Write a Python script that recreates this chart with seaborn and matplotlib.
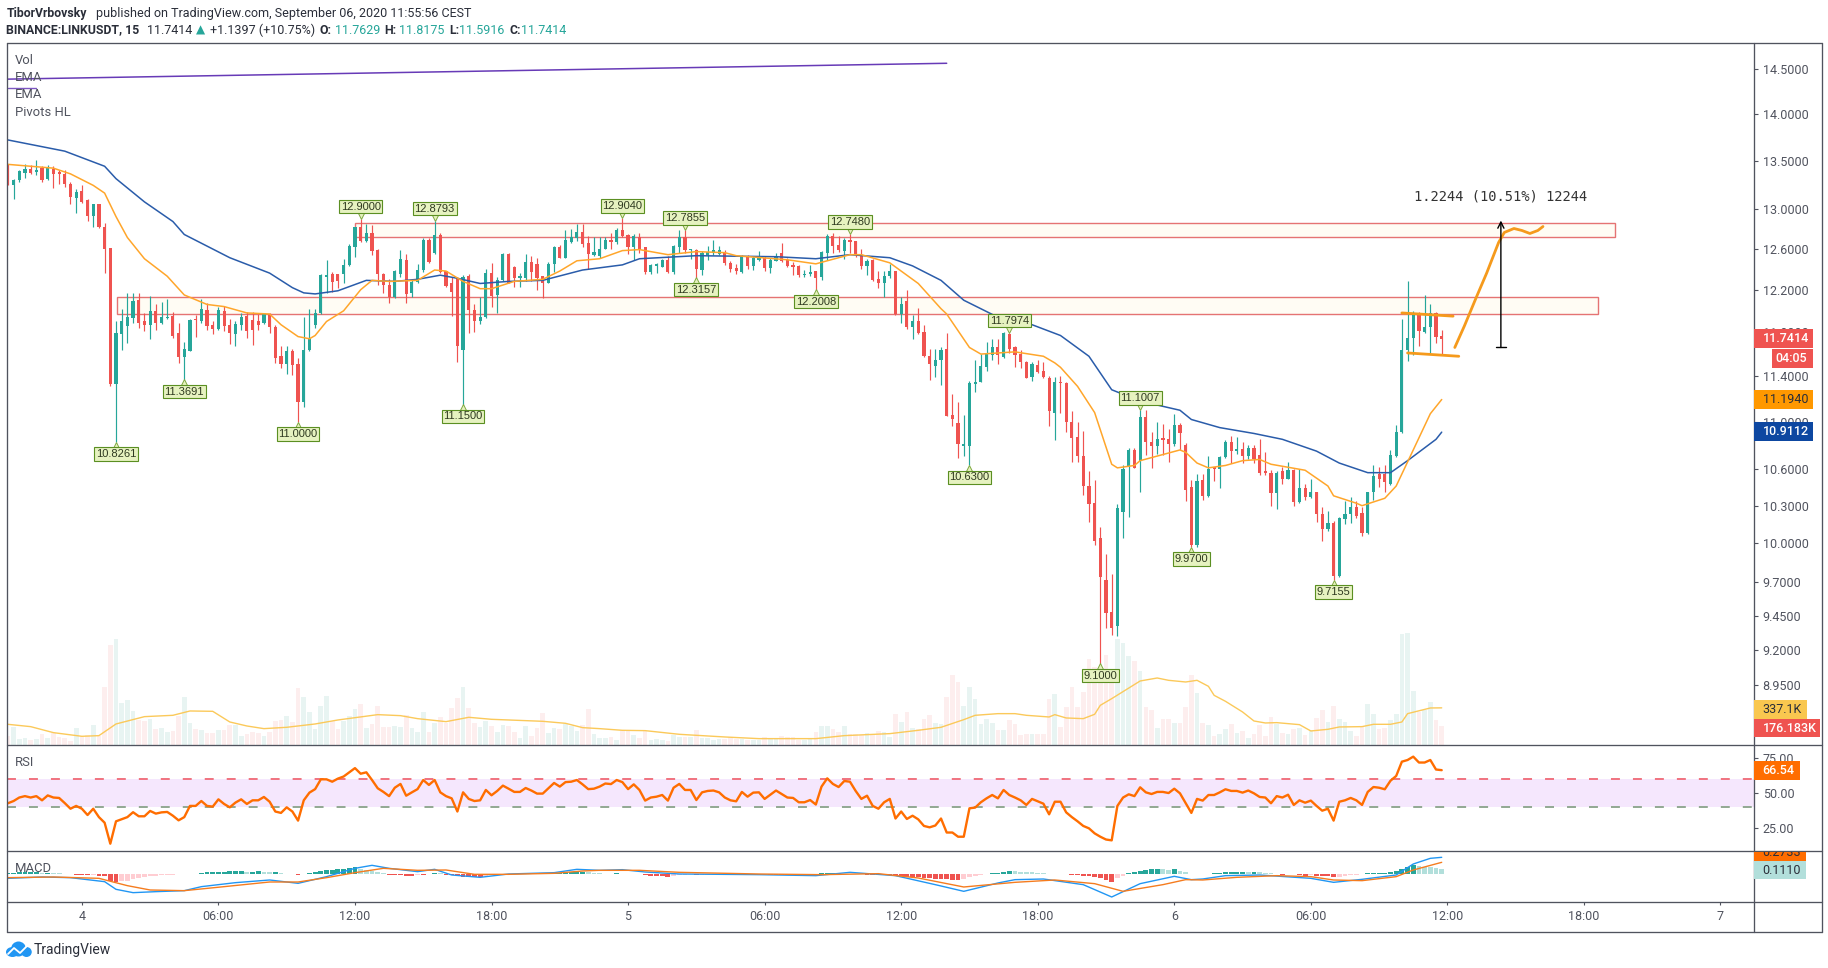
import matplotlib
matplotlib.use("Agg")
import matplotlib.pyplot as plt
import pandas as pd
import seaborn as sns
from matplotlib.lines import Line2D
from matplotlib.patches import Ellipse, Rectangle
from matplotlib.transforms import Bbox, IdentityTransform, TransformedBbox, offset_copy

# LINK/USDT 15 minute bars
opens = [13.45,13.24,13.30,13.37,13.41,13.38,13.42,13.31,13.41,13.38,
    13.36,13.25,13.11,13.18,13.09,12.93,13.05,12.82,12.61,11.33,
    11.78,11.86,11.93,12.10,11.90,11.87,12.00,11.89,11.93,11.95,
    11.79,11.57,11.63,11.92,11.90,12.01,11.87,11.83,12.00,11.87,
    11.78,11.87,11.95,11.91,11.90,11.89,11.97,11.85,11.58,11.51,
    11.63,11.51,11.17,11.64,11.87,11.98,12.32,12.35,12.35,12.35,
    12.44,12.62,12.82,12.68,12.75,12.59,12.35,12.25,12.13,12.35,
    12.49,12.17,12.27,12.39,12.69,12.56,12.73,12.38,12.26,12.31,
    11.64,12.33,12.01,11.90,11.94,12.36,12.15,12.29,12.55,12.42,
    12.31,12.31,12.47,12.45,12.33,12.26,12.45,12.62,12.51,12.67,
    12.70,12.76,12.66,12.54,12.53,12.60,12.69,12.67,12.78,12.73,
    12.62,12.71,12.62,12.37,12.43,12.42,12.49,12.37,12.62,12.71,
    12.59,12.59,12.39,12.54,12.56,12.55,12.57,12.46,12.41,12.37,
    12.52,12.43,12.49,12.51,12.41,12.48,12.56,12.49,12.44,12.43,
    12.34,12.35,12.38,12.32,12.56,12.72,12.64,12.58,12.69,12.68,
    12.53,12.43,12.49,12.30,12.26,12.33,12.38,11.97,12.09,11.85,
    11.90,11.80,11.58,11.49,11.55,11.65,11.06,10.99,10.79,10.79,
    11.33,11.35,11.48,11.59,11.66,11.57,11.78,11.66,11.60,11.53,
    11.39,11.50,11.45,11.38,11.08,11.35,11.34,11.00,10.87,10.71,
    10.46,10.32,10.04,9.72,9.48,9.37,10.25,10.62,10.76,10.67,
    11.04,10.83,10.79,10.86,10.85,10.81,10.97,10.80,10.45,9.99,
    10.51,10.38,10.62,10.60,10.70,10.83,10.75,10.77,10.71,10.78,
    10.72,10.58,10.57,10.40,10.58,10.52,10.59,10.33,10.44,10.37,
    10.41,10.23,10.11,10.16,9.75,10.19,10.23,10.29,10.24,10.08,
    10.41,10.56,10.56,10.48,10.71,10.91,11.64,11.75,11.96,11.80,
    11.85,11.98,11.7629]
highs = [13.46,13.31,13.40,13.46,13.45,13.51,13.44,13.45,13.44,13.40,
    13.40,13.27,13.20,13.24,13.10,13.05,13.05,12.86,12.61,11.90,
    12.02,12.17,12.17,12.17,11.98,12.14,12.06,12.08,12.11,11.99,
    11.89,11.71,11.92,11.96,12.11,12.07,11.90,12.04,12.05,11.92,
    11.90,11.98,11.99,11.99,11.97,11.98,11.98,11.87,11.67,11.67,
    11.65,11.56,11.94,12.02,12.02,12.35,12.49,12.37,12.35,12.50,
    12.65,12.82,12.90,12.85,12.84,12.60,12.36,12.30,12.39,12.59,
    12.55,12.30,12.45,12.70,12.70,12.8793,12.75,12.38,12.32,12.32,
    12.34,12.35,12.06,12.13,12.40,12.46,12.32,12.56,12.56,12.43,
    12.36,12.55,12.53,12.51,12.33,12.47,12.63,12.64,12.78,12.79,
    12.85,12.85,12.72,12.71,12.71,12.71,12.75,12.80,12.9040,12.74,
    12.74,12.75,12.62,12.45,12.46,12.50,12.53,12.64,12.78,12.7855,
    12.60,12.60,12.58,12.63,12.69,12.63,12.59,12.48,12.45,12.54,
    12.54,12.53,12.58,12.53,12.51,12.56,12.66,12.51,12.47,12.44,
    12.39,12.44,12.38,12.58,12.74,12.75,12.72,12.70,12.7480,12.68,
    12.60,12.50,12.50,12.38,12.38,12.45,12.38,12.13,12.20,11.96,
    12.03,11.87,11.65,11.65,11.66,11.79,11.24,11.17,11.06,11.36,
    11.55,11.60,11.71,11.74,11.74,11.80,11.7974,11.67,11.64,11.54,
    11.53,11.55,11.53,11.40,11.39,11.40,11.35,11.09,11.00,10.92,
    10.58,10.51,10.13,9.92,9.76,10.31,10.63,10.78,10.78,11.1007,
    11.10,10.91,11.00,10.98,10.94,11.07,10.99,10.82,10.51,10.56,
    10.56,10.71,10.62,10.71,10.84,10.88,10.87,10.83,10.80,10.80,
    10.85,10.74,10.59,10.58,10.62,10.66,10.60,10.60,10.48,10.52,
    10.41,10.29,10.26,10.18,10.21,10.34,10.37,10.34,10.29,10.41,
    10.63,10.62,10.63,10.76,10.97,11.92,12.28,12.00,11.99,12.15,
    12.06,11.99,11.8175]
lows = [13.24,13.10,13.27,13.32,13.36,13.35,13.27,13.30,13.21,13.25,
    13.22,13.05,12.96,13.06,12.88,12.81,12.80,12.36,11.31,10.8261,
    11.64,11.70,11.89,11.84,11.81,11.74,11.82,11.88,11.92,11.75,
    11.52,11.3691,11.63,11.76,11.89,11.82,11.78,11.82,11.81,11.69,
    11.67,11.82,11.75,11.68,11.82,11.88,11.79,11.52,11.47,11.42,
    11.41,11.00,11.13,11.63,11.84,11.97,12.17,12.18,12.22,12.26,
    12.43,12.52,12.67,12.67,12.54,12.25,12.17,12.07,12.12,12.32,
    12.07,12.13,12.26,12.37,12.46,12.55,12.36,12.23,11.95,11.53,
    11.15,11.79,11.80,11.88,11.93,12.04,11.98,12.28,12.26,12.23,
    12.23,12.28,12.28,12.20,12.12,12.26,12.37,12.51,12.51,12.66,
    12.68,12.62,12.40,12.53,12.51,12.60,12.60,12.65,12.71,12.55,
    12.49,12.56,12.35,12.35,12.36,12.42,12.36,12.35,12.56,12.56,
    12.50,12.3157,12.34,12.49,12.54,12.54,12.44,12.37,12.35,12.36,
    12.40,12.39,12.48,12.38,12.36,12.48,12.47,12.42,12.34,12.32,
    12.32,12.33,12.2008,12.29,12.49,12.56,12.57,12.50,12.56,12.52,
    12.40,12.34,12.28,12.22,12.13,12.31,11.96,11.89,11.83,11.74,
    11.78,11.57,11.37,11.39,11.32,11.05,10.96,10.69,10.71,10.63,
    11.26,11.35,11.45,11.55,11.51,11.56,11.61,11.48,11.47,11.38,
    11.36,11.43,11.38,10.96,10.84,11.08,10.91,10.66,10.66,10.39,
    10.17,9.99,9.10,9.36,9.31,9.30,10.04,10.21,10.61,10.41,
    10.72,10.61,10.73,10.72,10.66,10.79,10.76,10.34,9.97,9.97,
    10.35,10.37,10.50,10.44,10.69,10.65,10.73,10.65,10.68,10.65,
    10.55,10.55,10.30,10.27,10.48,10.52,10.30,10.32,10.35,10.36,
    10.17,10.02,10.10,9.7155,9.74,10.15,10.16,10.20,10.06,10.07,
    10.35,10.45,10.41,10.47,10.70,10.90,11.54,11.59,11.67,11.79,
    11.61,11.70,11.5916]
closes = [13.24,13.30,13.39,13.41,13.37,13.40,13.30,13.42,13.36,13.36,
    13.25,13.12,13.17,13.07,12.93,13.05,12.81,12.60,11.33,11.79,
    11.90,11.94,12.09,11.89,11.87,12.00,11.89,11.94,11.94,11.77,
    11.57,11.65,11.91,11.91,12.02,11.86,11.83,12.01,11.86,11.79,
    11.88,11.94,11.81,11.82,11.87,11.97,11.85,11.56,11.51,11.63,
    11.50,11.17,11.64,11.75,11.98,12.34,12.34,12.27,12.28,12.44,
    12.63,12.81,12.68,12.75,12.58,12.35,12.25,12.13,12.38,12.50,
    12.16,12.27,12.39,12.69,12.47,12.73,12.37,12.24,12.18,11.67,
    12.32,12.01,11.90,11.94,12.36,12.14,12.29,12.55,12.26,12.31,
    12.33,12.47,12.37,12.31,12.26,12.45,12.62,12.51,12.69,12.71,
    12.76,12.65,12.55,12.57,12.60,12.69,12.67,12.78,12.72,12.62,
    12.72,12.60,12.37,12.44,12.45,12.49,12.37,12.63,12.71,12.59,
    12.60,12.40,12.56,12.57,12.59,12.59,12.46,12.40,12.38,12.52,
    12.43,12.51,12.51,12.41,12.49,12.53,12.48,12.43,12.42,12.34,
    12.35,12.37,12.31,12.57,12.72,12.63,12.59,12.69,12.67,12.55,
    12.43,12.48,12.29,12.26,12.33,12.38,11.97,12.06,11.85,11.90,
    11.79,11.58,11.51,11.55,11.64,11.05,11.02,10.81,10.81,11.34,
    11.35,11.49,11.60,11.66,11.59,11.79,11.65,11.59,11.53,11.38,
    11.51,11.44,11.39,11.09,11.35,11.34,11.00,10.86,10.71,10.46,
    10.31,10.02,9.74,9.47,9.36,10.28,10.60,10.76,10.61,11.04,
    10.83,10.79,10.85,10.84,10.81,10.97,10.90,10.43,9.99,10.50,
    10.38,10.60,10.60,10.70,10.83,10.75,10.77,10.71,10.78,10.68,
    10.57,10.57,10.40,10.57,10.52,10.59,10.33,10.44,10.37,10.41,
    10.23,10.11,10.16,9.75,10.20,10.23,10.29,10.22,10.08,10.41,
    10.54,10.52,10.49,10.72,10.91,11.64,11.75,11.96,11.81,11.85,
    11.98,11.76,11.7414]
# volume in thousands
volumes = [84,168,57,66,48,57,102,66,108,78,
    63,42,153,84,93,183,87,528,903,957,
    384,408,309,228,222,240,144,159,123,129,
    264,438,204,147,135,114,114,138,138,180,
    183,84,102,120,114,84,123,219,228,264,
    213,513,432,300,150,354,444,219,144,219,
    264,330,372,159,192,354,168,165,174,162,
    273,159,120,300,120,204,252,198,333,423,
    525,333,198,168,219,174,120,183,174,123,
    66,174,84,159,288,108,159,147,192,174,
    132,180,324,99,66,66,75,51,135,135,
    90,69,135,45,54,45,36,90,75,75,
    75,135,69,66,51,57,57,75,60,57,
    45,45,45,75,54,54,87,75,75,45,
    45,60,117,171,171,147,117,171,105,105,
    90,114,90,132,123,75,285,207,297,153,
    150,234,276,204,195,432,636,570,354,522,
    414,192,234,204,135,135,225,195,90,105,
    99,99,99,420,459,165,342,522,342,477,
    774,705,585,816,690,954,924,801,756,666,
    342,315,156,234,234,198,204,342,630,468,
    198,180,81,105,144,192,111,126,63,99,
    180,81,252,195,111,99,147,159,90,135,
    243,315,207,351,234,210,126,81,165,369,
    285,150,159,225,279,999,1008,486,300,321,
    387,225,176.183]
rsi = [42.9,44.5,47,48,47,48,45,48.5,47,46.7,
    43,39,41,39,34.5,39,33,29,14,30,
    31.5,33,36.5,33.6,33.6,37.4,35.5,36.4,36.7,34,
    30.7,33,41,41,44.5,41,40.5,45.7,42.4,40,
    43.4,45.7,42.4,45,45,47.4,44,37,36,40,
    37,30.5,45,50.5,53,60,60,58.3,60.5,62,
    65,68,64,65,59.5,53.6,51,48,54,56.7,
    48.3,50.7,53,59.5,56,59.5,50.7,48,46.4,37,
    50.7,46,44.5,45,52.4,48.6,51.7,55.5,53.3,51,
    51,53.8,52,49.8,49.8,53.6,57.4,54.8,58,58.3,
    59.5,56.4,53,53.3,54.8,57,56.6,59.5,58,53,
    56.4,52.4,44.8,47,47.6,48.8,44.8,54,56.7,52.4,
    52.4,45.2,50.7,51.7,52,50.7,47,45,44.3,51,
    47.6,50.5,50.7,46,49,52,49.5,47,46.7,43.6,
    43.6,45.2,42,54.8,60.7,56.7,54.5,58.8,58.3,51.7,
    46,48.3,41,39,43.6,46,32,37,31.7,34,
    31.4,26.7,25.7,27,32,22,22,19,19,39.3,
    39.8,43.6,46.4,48.8,46.4,52.4,48.8,47,45,41.7,
    46,44.3,42.6,35,44,44,36.4,33,30,26.7,
    25,21.4,19,17,16.4,41,47,49.3,48,54.3,
    50.7,49.5,51,51,50.2,53.3,50,43,36,46,
    44.8,48.8,48.8,50.7,52.9,51.7,51.7,50.5,52,50,
    47.4,47,42.9,48,47,49,41.7,45,43.3,44.8,
    41,37.6,39,30.5,44,45,46.7,45,41.7,51,
    54.5,54,52.9,59,62.4,72.6,73.8,76.2,72,72,
    73.8,67,66.54]
macd_hist = [3,4,5,5,5,5,4,4,3,2,
    1,-1,-2,-3,-3,-2,-7,-7,-22,-24,
    -22,-20,-15,-11,-8,-6,-5,-4,-3,-2,
    -1,-1,0,1,4,5,5,6,7,8,
    9,9,7,7,9,6,5,5,3,1,
    -1,-2,-1,2,5,9,12,13,14,16,
    18,20,16,13,9,6,2,-2,-2,-2,
    -5,-5,-2,-2,-1,3,2,-2,-3,-5,
    -8,-10,-10,-10,-6,-3,-1,1,1,1,
    1,1,1,1,1,2,3,4,5,6,
    6,7,5,3,2,1,1,3,1,0.5,
    0.5,-1,-3,-6,-7,-7,-8,-5,-3,-2,
    -1,-4,-3,-2,-1,-1,-2,-2,-1,-1,
    -1,-1,-1,-1,-2,-2,-2,-2,-2,-2,
    -3,-4,-4,3,3,3,2,1,1,-1,
    -1,-2,-2,-2,-2,-2,-4,-7,-10,-10,
    -10,-11,-12,-14,-14,-16,-17,-17,-14,-10,
    -7,-4,-1,2,4,6,9,8,7,6,
    5,4,3,1,0.5,0.5,-1,-2,-3,-6,
    -7,-9,-13,-17,-25,-13,-5,2,5,8,
    12,14,15,14,13,15,9,5,1,0,
    0,1,3,3,5,6,7,7,6,6,
    5,4,2,-1,-2,-1,-1,-4,-5,-4,
    -6,-7,-7,-10,-8,-6,-4,-3,-1,2,
    3,3,4,6,10,16,22,26,23,21,
    20,17,15]
MACD_UNIT = 0.0075  # macd lists are noted in this step

# indicator lines, noted at their visible bends
ema_blue_bars = [0,10,17,19,24,29,31,39,46,50,52,54,58,63,68,72,76,79,83,88,94,101,108,111,121,135,142,148,155,159,164,168,174,180,185,190,194,199,206,208,213,219,224,230,234,239,243,246,251,252]
ema_blue = [13.72,13.60,13.44,13.31,13.07,12.87,12.74,12.51,12.36,12.22,12.17,12.16,12.19,12.29,12.28,12.30,12.34,12.31,12.26,12.28,12.29,12.39,12.44,12.50,12.53,12.52,12.50,12.54,12.51,12.43,12.29,12.10,11.94,11.87,11.77,11.58,11.28,11.18,11.10,11.02,10.95,10.90,10.85,10.75,10.65,10.57,10.57,10.67,10.85,10.9112]
ema_orange_bars = [0,8,11,15,17,19,21,24,28,31,35,38,42,46,48,51,53,54,56,59,62,64,67,72,75,77,80,83,85,89,94,97,100,104,108,111,116,121,126,128,137,142,148,150,155,160,164,165,169,171,177,182,184,185,188,191,194,195,198,199,206,207,209,211,214,217,220,222,228,232,233,237,238,242,244,247,250,252]
ema_orange = [13.46,13.42,13.36,13.24,13.16,12.92,12.71,12.50,12.33,12.15,12.06,12.04,11.98,11.97,11.87,11.76,11.74,11.77,11.90,12.00,12.20,12.29,12.28,12.29,12.39,12.38,12.28,12.21,12.21,12.28,12.30,12.38,12.48,12.50,12.58,12.59,12.54,12.57,12.56,12.53,12.49,12.45,12.54,12.54,12.46,12.26,12.02,11.97,11.66,11.60,11.62,11.58,11.52,11.48,11.31,11.08,10.64,10.61,10.63,10.67,10.76,10.74,10.65,10.61,10.63,10.67,10.68,10.64,10.59,10.46,10.38,10.32,10.30,10.36,10.46,10.76,11.07,11.194]
ema_long_bars = [0,165]
ema_long = [14.39,14.57]
ema_long2_bars = [0,5]
ema_long2 = [14.29,14.29]
vol_ma_bars = [0,4,8,13,16,19,24,29,32,36,39,42,45,49,54,58,65,69,72,77,81,85,94,98,101,104,108,112,118,121,126,132,142,147,155,160,164,168,170,174,177,179,183,184,186,189,191,192,194,199,202,204,207,209,211,212,214,217,219,221,223,227,229,232,234,238,240,243,245,246,250,252]
vol_ma = [189,168,114,81,87,192,258,270,309,306,210,174,150,162,192,228,276,267,240,213,252,234,216,198,159,150,135,132,99,90,75,60,60,87,105,135,162,231,270,285,285,270,255,276,246,240,279,360,420,579,606,585,570,585,531,450,396,300,219,201,204,186,129,144,165,168,189,189,210,285,336,337.1]
macd_bars = [0,6,11,17,19,22,26,31,34,40,46,51,56,61,64,67,72,75,78,83,88,96,100,104,108,112,118,132,142,148,156,163,168,174,177,182,189,194,199,205,208,210,214,220,229,233,238,244,247,250,252]
macd_line = [-13,-9,-11,-23,-46,-56,-53,-50,-38,-26,-18,-28,-8,17,26,17,7,14,-3,-10,0,4,14,11,13,6,0,-2,-5,5,-5,-32,-52,-27,-17,-15,-32,-69,-29,-7,-17,-15,-5,-3,-13,-25,-16,-3,30,47,50]
signal_bars = [0,8,16,21,25,31,38,46,51,56,61,66,72,77,82,88,96,101,104,111,118,132,143,153,160,168,177,184,191,196,203,207,210,216,223,229,233,238,244,247,252]
signal_line = [-11,-9,-13,-35,-48,-50,-38,-24,-24,-11,4,17,11,12,-1,-1,2,9,11,11,5,0,-2,1,-12,-39,-25,-18,-29,-52,-32,-17,-18,-10,-5,-8,-18,-20,-8,12,35]

pivot_high_bars = [62,75,108,119,148,176,199]
pivot_highs = [12.9000,12.8793,12.9040,12.7855,12.7480,11.7974,11.1007]
pivot_low_bars = [19,31,51,80,121,142,169,192,208,233]
pivot_lows = [10.8261,11.3691,11.0000,11.1500,12.3157,12.2008,10.6300,9.1000,9.9700,9.7155]

# hand drawn things
zone_bars = [(61,282.4),(19.1,279.4)]
zone_prices = [(12.71,12.86),(11.97,12.13)]
flag_bars = [(245,254),(246,255)]
flag_prices = [(11.98,11.95),(11.61,11.58)]
path_bars = [254.3,256,258.1,259.9,262,263,264.7,266.1,267.5,268.9,269.8]
path_prices = [11.66,11.86,12.13,12.36,12.66,12.76,12.80,12.78,12.75,12.78,12.82]
arrow_bar = 262.4
arrow_prices = (11.66,12.88)

price_ticks = [14.5,14.0,13.5,13.0,12.6,12.2,11.8,11.4,11.0,10.6,10.3,10.0,9.7,9.45,9.2,8.95]
time_ticks = [13,37,61,85,109,133,157,181,205,229,253,277,301]
time_labels = ["4","06:00","12:00","18:00","5","06:00","12:00","18:00","6","06:00","12:00","18:00","7"]
rsi_ticks = [75,50,25]

UP, DOWN = "#26a69a", "#ef5350"
TEXT = "#50535e"
W, H = 1828, 968
XL, XR = 6.7, 1753.5   # pane edges in pixels
Y0, Y1, Y2, Y3, Y4 = 43.3, 745.3, 851, 902.3, 931.7
XLIM = (-0.21, 306.8)

sns.set_theme(style="white")
plt.rcParams["font.family"] = ["Roboto", "DejaVu Sans"]

df = pd.DataFrame({"open": opens, "high": highs, "low": lows, "close": closes,
                   "vol": volumes, "rsi": rsi, "hist": macd_hist})
df["bar"] = df.index
df["up"] = df["close"] >= df["open"]
df["hist"] = df["hist"] * MACD_UNIT

fig = plt.figure(figsize=(W / 100, H / 100), dpi=100, facecolor="white")


def pane(top, bottom, z=2):
    a = fig.add_axes([XL / W, 1 - bottom / H, (XR - XL) / W, (bottom - top) / H], zorder=z)
    a.set_facecolor("none")
    a.set_xlim(*XLIM)
    for s in a.spines.values():
        s.set_visible(False)
    a.tick_params(left=False, labelleft=False, bottom=False, labelbottom=False)
    return a


vol_ax = pane(Y0, Y1, z=1)
ax = pane(Y0, Y1)
rsi_ax = pane(Y1, Y2)
macd_ax = pane(Y2, Y3)

# volume
vol_ax.bar(df["bar"], df["vol"], width=0.82, lw=0, color=df["up"].map({True: "#e8f4f2", False: "#fdeeee"}))
sns.lineplot(x=vol_ma_bars, y=vol_ma, color="#fbc95a", lw=1.0, ax=vol_ax)
vol_ax.set_xlim(*XLIM)
vol_ax.set_ylim(0, 6320)
vol_ax.set_xlabel("")
vol_ax.set_ylabel("")

# price pane
ax.set_yscale("log")
ax.set_ylim(8.536, 14.80)
ax.set_xlim(*XLIM)
for (x0, x1), (p0, p1) in zip(zone_bars, zone_prices):
    ax.add_patch(Rectangle((x0, p0), x1 - x0, p1 - p0, fc="#fffcf4", ec="#e57373", lw=1.0, zorder=1))

colors = df["up"].map({True: UP, False: DOWN})
ax.vlines(df["bar"], df["low"], df["high"], colors=colors, lw=0.85, zorder=3)
ax.bar(df["bar"], (df["close"] - df["open"]).abs(), bottom=df[["open", "close"]].min(axis=1),
       width=0.56, color=colors, lw=0, zorder=3)

sns.lineplot(x=ema_blue_bars, y=ema_blue, color="#2a5caa", lw=1.1, ax=ax, zorder=4)
sns.lineplot(x=ema_orange_bars, y=ema_orange, color="#ffa62b", lw=1.1, ax=ax, zorder=4)
sns.lineplot(x=ema_long_bars, y=ema_long, color="#673ab7", lw=1.1, ax=ax, zorder=4)
sns.lineplot(x=ema_long2_bars, y=ema_long2, color="#7e57c2", lw=1.0, ax=ax, zorder=4)

for bars, prices in zip(flag_bars, flag_prices):
    ax.plot(bars, prices, color="#f59a1c", lw=2.0, zorder=5, solid_capstyle="round")
ax.plot(path_bars, path_prices, color="#f59a1c", lw=2.0, zorder=5, solid_capstyle="round")
ax.annotate("", xy=(arrow_bar, arrow_prices[1]), xytext=(arrow_bar, arrow_prices[0]),
            arrowprops=dict(arrowstyle="->", color="black", lw=1.0, shrinkA=0, shrinkB=0,
                            mutation_scale=11), zorder=6)
ax.plot([arrow_bar - 0.9, arrow_bar + 0.9], [arrow_prices[0]] * 2, color="black", lw=1.0, zorder=6)
ax.text(arrow_bar, 13.12, "1.2244 (10.51%) 12244", family="DejaVu Sans Mono", fontsize=9.9,
        color="#333333", ha="center", va="center", zorder=6)


def pivot(bar, price, above):
    sign = 1 if above else -1
    tr = offset_copy(ax.transData, fig=fig, x=0, y=sign * 3.4, units="points")
    ax.plot([bar], [price], marker="v" if above else "^", ms=7.5, mfc="#e6f2c0", mec="#7fa83f",
            mew=0.7, transform=tr, zorder=7, clip_on=False)
    ax.annotate(f"{price:.4f}", xy=(bar, price), xytext=(0, sign * 8.6), textcoords="offset points",
                ha="center", va="center", fontsize=8, family="Liberation Sans", color="#2f3a20", zorder=8,
                bbox=dict(boxstyle="square,pad=0.16", fc="#e6f2c0", ec="#5b8f22", lw=0.8))


for b, p in zip(pivot_high_bars, pivot_highs):
    pivot(b, p, True)
for b, p in zip(pivot_low_bars, pivot_lows):
    pivot(b, p, False)

ax.yaxis.tick_right()
ax.set_yticks(price_ticks)
ax.set_yticklabels([f"{t:.4f}" for t in price_ticks])
ax.minorticks_off()
ax.tick_params(axis="y", right=True, labelright=True, left=False, labelleft=False, length=2.6, width=0.8,
               color=TEXT, labelcolor=TEXT, labelsize=9, pad=4)
ax.set_xlabel("")

# rsi
rsi_ax.set_ylim(8.8, 84.3)
rsi_ax.axhspan(40, 60, fc="#f5e7fd", lw=0, zorder=1)
rsi_ax.axhline(60, color="#f0727f", lw=1.4, ls=(0, (4.6, 6.7)), zorder=2)
rsi_ax.axhline(40, color="#92a893", lw=1.4, ls=(0, (4.6, 6.7)), zorder=2)
sns.lineplot(data=df, x="bar", y="rsi", color="#ff6d00", lw=1.7, ax=rsi_ax, zorder=3)
rsi_ax.yaxis.tick_right()
rsi_ax.set_yticks(rsi_ticks)
rsi_ax.set_yticklabels([f"{t:.2f}" for t in rsi_ticks])
rsi_ax.tick_params(axis="y", right=True, labelright=True, left=False, labelleft=False, length=2.6, width=0.8,
                   color=TEXT, labelcolor=TEXT, labelsize=9, pad=4)
rsi_ax.set_xlim(*XLIM)
rsi_ax.set_xlabel("")
rsi_ax.set_ylabel("")

# macd
prev = df["hist"].shift(1).fillna(0)
df["hcolor"] = DOWN
df.loc[(df["hist"] >= 0) & (df["hist"] >= prev), "hcolor"] = UP
df.loc[(df["hist"] >= 0) & (df["hist"] < prev), "hcolor"] = "#b2dfdb"
df.loc[(df["hist"] < 0) & (df["hist"] > prev), "hcolor"] = "#ffcdd2"
macd_ax.bar(df["bar"], df["hist"], width=0.85, lw=0, color=df["hcolor"])
sns.lineplot(x=macd_bars, y=[v * MACD_UNIT for v in macd_line], color="#2196f3", lw=1.0, ax=macd_ax)
sns.lineplot(x=signal_bars, y=[v * MACD_UNIT for v in signal_line], color="#f57c1f", lw=1.0, ax=macd_ax)
macd_ax.set_ylim(-0.637, 0.5175)
macd_ax.set_xlim(*XLIM)
macd_ax.set_xticks(time_ticks)
macd_ax.set_xticklabels(time_labels)
macd_ax.tick_params(axis="x", bottom=True, labelbottom=True, length=2.4, width=0.8, color=TEXT,
                    labelcolor=TEXT, labelsize=9, pad=3.5)
macd_ax.set_xlabel("")
macd_ax.set_ylabel("")


def ftext(x, y, s, **kw):
    kw.setdefault("va", "center")
    kw.setdefault("zorder", 6)
    return fig.text(x / W, 1 - y / H, s, **kw)


def fline(x0, y0, x1, y1, color=TEXT, lw=0.95, zorder=4):
    fig.add_artist(Line2D([x0 / W, x1 / W], [1 - y0 / H, 1 - y1 / H], color=color, lw=lw,
                          transform=fig.transFigure, zorder=zorder))


def badge(x1, y0, y1, color, text, tcolor="white", x0=XR, tx=1762.7, weight="medium"):
    fig.add_artist(Rectangle((x0 / W, 1 - y1 / H), (x1 - x0) / W, (y1 - y0) / H, fc=color, lw=0,
                             transform=fig.transFigure, zorder=5))
    return ftext(tx, (y0 + y1) / 2 + 0.3, text, color=tcolor, fontsize=9, fontweight=weight)


# frame
XO = 1822
for y in (Y0, Y1, Y2, Y3, Y4):
    fline(XL, y, XO, y)
fline(XL, Y0, XL, Y4)
fline(XR, Y0, XR, Y4)
fline(XO, Y0, XO, Y4)

# price scale badges
badge(1813, 329, 347.7, DOWN, "11.7414")
badge(1813, 349, 367.7, DOWN, "04:05", x0=1771.5, tx=1775)
badge(1813, 390, 408.7, "#ff9800", "11.1940", tcolor="#2a2e39", weight="normal")
badge(1813, 422, 440.7, "#0d47a1", "10.9112")
badge(1807, 700, 718.7, "#f9c74f", "337.1K", tcolor="#2a2e39", weight="normal")
badge(1820, 718.7, 736.7, DOWN, "176.183K")
badge(1800, 761, 779.7, "#ff6d00", "66.54")
clip_text = badge(1806, 851.5, 860.7, "#ff6d00", "0.2733", tcolor="#2a2e39", weight="normal")
clip_text.set_position((1762.7 / W, 1 - 852 / H))
clip_text.set_clip_box(TransformedBbox(Bbox([[XR, H - 860.7], [1806, H - 851.5]]), IdentityTransform()))
clip_text.set_clip_on(True)
badge(1806, 860.7, 879, "#b2dfdb", "0.1110", tcolor="#2a2e39", weight="normal")

# pane legends
for y, s in zip((60, 77.7, 95, 112), ("Vol", "EMA", "EMA", "Pivots HL")):
    ftext(15, y, s, color=TEXT, fontsize=9.4)
ftext(15, 762.7, "RSI", color=TEXT, fontsize=9.4)
ftext(15, 868.7, "MACD", color=TEXT, fontsize=9.4)

# header
DARK = "#2a2e39"
HEAD = 9.0
ftext(6.3, 13, "TiborVrbovsky", color=DARK, fontsize=8.8, fontweight="bold")
ftext(96.5, 13, "published on TradingView.com, September 06, 2020 11:55:56 CEST", color=DARK, fontsize=HEAD)
ftext(6.3, 30, "BINANCE:LINKUSDT, 15", color=DARK, fontsize=8.8, fontweight="bold")
ftext(147.5, 30, "11.7414", color=DARK, fontsize=HEAD)
ftext(196, 30, "▲", color=UP, fontsize=8.6, family="DejaVu Sans")
ftext(210.5, 30, "+1.1397 (+10.75%)", color=DARK, fontsize=HEAD)
for x, s in ((320, "O:"), (384.5, "H:"), (449, "L:"), (509.5, "C:")):
    ftext(x, 30, s, color=DARK, fontsize=8.8, fontweight="bold")
for x, s in ((334.5, "11.7629"), (398.5, "11.8175"), (459.5, "11.5916"), (521, "11.7414")):
    ftext(x, 30, s, color=UP, fontsize=HEAD)

# TradingView logo
for cx, cy, w, h in ((12.5, 952, 13, 10), (18.5, 949, 15, 15), (26.5, 952, 10.5, 10)):
    fig.add_artist(Ellipse((cx / W, 1 - cy / H), w / W, h / H, fc="#2196f3", lw=0,
                           transform=fig.transFigure, zorder=5))
fig.add_artist(Line2D([8 / W, 14 / W, 20 / W, 27 / W], [1 - 954 / H, 1 - 948 / H, 1 - 953 / H, 1 - 946 / H],
                      color="white", lw=1.3, transform=fig.transFigure, zorder=6))
ftext(34, 950, "TradingView", color=DARK, fontsize=10)

fig.savefig("out.png", dpi=100, facecolor="white")
